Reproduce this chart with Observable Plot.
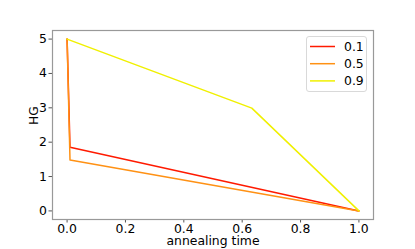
<!DOCTYPE html>
<html>
<head>
<meta charset="utf-8">
<script src="https://cdn.jsdelivr.net/npm/d3@7"></script>
<script src="https://cdn.jsdelivr.net/npm/@observablehq/plot@0.6"></script>
<style>
  body { margin: 0; background: #fff; }
  #wrap { position: relative; width: 415px; height: 249px; font-family: "DejaVu Sans", sans-serif; }
  #legend { position: absolute; left: 306px; top: 36px; width: 61px; height: 56px; box-sizing: border-box;
            border: 1px solid #d9d9d9; border-radius: 3px; background: rgba(255,255,255,0.8); }
  #legend svg { position: absolute; left: 0; top: 0; }
</style>
</head>
<body>
<div id="wrap"></div>
<script>
const series = ["0.1", "0.5", "0.9"];
const colors = ["rgb(255,26,0)", "rgb(255,145,20)", "rgb(240,240,0)"];
const xs = {
  "0.1": [0.0, 0.01, 1.0],
  "0.5": [0.0, 0.01, 1.0],
  "0.9": [0.0, 0.633, 1.0]
};
const ys = {
  "0.1": [5.0, 1.855, 0.0],
  "0.5": [5.0, 1.48, 0.0],
  "0.9": [5.0, 2.99, 0.0]
};
const xTicks = [0.0, 0.2, 0.4, 0.6, 0.8, 1.0];
const yTicks = [0, 1, 2, 3, 4, 5];

const data = [];
for (const s of series) xs[s].forEach((x, i) => data.push({s, x, y: ys[s][i]}));

const plot = Plot.plot({
  width: 415, height: 249,
  marginLeft: 52, marginRight: 42, marginTop: 30, marginBottom: 30,
  style: {fontFamily: "DejaVu Sans, sans-serif", fontSize: "12.4px", color: "#000", background: "#fff"},
  x: {domain: [-0.05, 1.05], label: null},
  y: {domain: [-0.25, 5.25], label: null},
  color: {domain: series, range: colors},
  marks: [
    Plot.axisX({ticks: xTicks, tickFormat: d3.format(".1f"), tickSize: 3.5, tickPadding: 1.5, stroke: "#555", fill: "#000", label: null}),
    Plot.axisY({ticks: yTicks, tickFormat: d3.format("d"), tickSize: 3.5, tickPadding: 2, stroke: "#555", fill: "#000", label: null}),
    Plot.line(data, {x: "x", y: "y", z: "s", stroke: "s", strokeWidth: 1.5}),
    Plot.frame({stroke: "#999", strokeWidth: 1.2}),
    Plot.text(["annealing time"], {frameAnchor: "bottom", lineAnchor: "top", dy: 17, fontSize: 12.4, fill: "#000"}),
    Plot.text(["HG"], {frameAnchor: "left", dx: -18, rotate: -90, fontSize: 12.4, fill: "#000"})
  ]
});
const wrap = document.getElementById("wrap");
wrap.appendChild(plot);

const leg = document.createElement("div");
leg.id = "legend";
const lsvg = d3.create("svg").attr("width", 61).attr("height", 56);
series.forEach((s, i) => {
  const cy = 9.5 + i * 17.2;
  lsvg.append("line").attr("x1", 3).attr("x2", 28).attr("y1", cy).attr("y2", cy)
    .attr("stroke", colors[i]).attr("stroke-width", 1.5);
  lsvg.append("text").attr("x", 37).attr("y", cy).attr("dy", "0.35em")
    .attr("font-family", "DejaVu Sans, sans-serif").attr("font-size", 12.4).attr("fill", "#000").text(s);
});
leg.appendChild(lsvg.node());
wrap.appendChild(leg);
</script>
</body>
</html>
